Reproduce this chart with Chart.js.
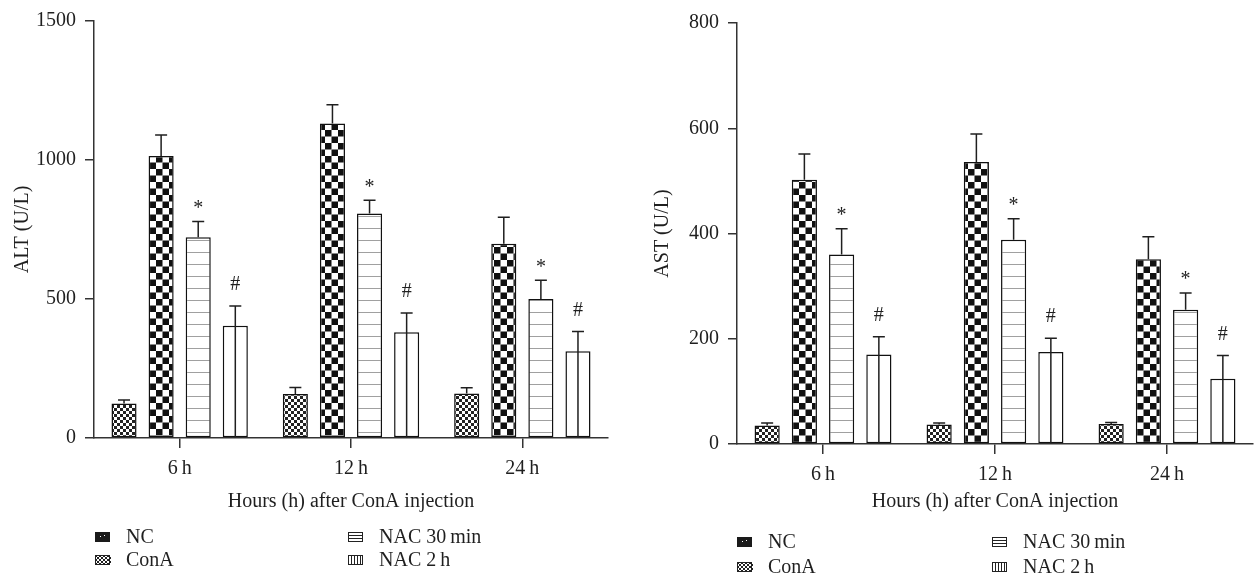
<!DOCTYPE html>
<html>
<head>
<meta charset="utf-8">
<script src="https://cdn.jsdelivr.net/npm/chart.js@4.4.1/dist/chart.umd.min.js"></script>
<style>
  html, body { margin: 0; padding: 0; background: #fff; }
  #wrap { position: relative; width: 1259px; height: 580px; }
  #altChart { position: absolute; left: 0; top: 0; }
  #astChart { position: absolute; left: 630px; top: 0; }
</style>
</head>
<body>
<div id="wrap">
  <canvas id="altChart" width="630" height="580"></canvas>
  <canvas id="astChart" width="629" height="580"></canvas>
</div>
<script>
// categories / series
var groups = ["6\u2009h", "12\u2009h", "24\u2009h"];
var seriesNames = ["NC", "ConA", "NAC 30\u2009min", "NAC 2\u2009h"];
var marks = ["", "", "*", "#"];

// ALT (U/L): means and top of error bar
var altNC = [124, 158, 160];
var altNCTop = [137, 182, 181];
var altConA = [1014, 1131, 699];
var altConATop = [1090, 1199, 794];
var altNAC30 = [722, 808, 500];
var altNAC30Top = [779, 855, 567];
var altNAC2 = [404, 380, 312];
var altNAC2Top = [475, 450, 383];
var altTicks = [0, 500, 1000, 1500];

// AST (U/L)
var astNC = [35, 37, 38];
var astNCTop = [40, 40, 41];
var astConA = [502, 536, 351];
var astConATop = [551, 589, 394];
var astNAC30 = [360, 388, 255];
var astNAC30Top = [409, 428, 287];
var astNAC2 = [170, 175, 124];
var astNAC2Top = [204, 201, 168];
var astTicks = [0, 200, 400, 600, 800];

var FONT = "'Liberation Serif', 'DejaVu Serif', serif";
var FS = 20;
var INK = '#1f1f1f';

function makePattern(w, h, draw) {
  var c = document.createElement('canvas');
  c.width = w; c.height = h;
  var g = c.getContext('2d');
  g.fillStyle = '#fff';
  g.fillRect(0, 0, w, h);
  draw(g);
  return g.createPattern(c, 'repeat');
}
var fineChecker = makePattern(6, 6, function (g) {
  g.fillStyle = '#222';
  g.fillRect(0, 0, 3, 3); g.fillRect(3, 3, 3, 3);
});
var bigChecker = makePattern(13, 13, function (g) {
  g.fillStyle = '#111';
  g.fillRect(0, 0, 6.5, 6.5); g.fillRect(6.5, 6.5, 6.5, 6.5);
});
var hStripes = makePattern(8, 12, function (g) {
  g.fillStyle = '#a0a0a0';
  g.fillRect(0, 0, 8, 1);
});

function buildDatasets(vals, tops) {
  var fills = [fineChecker, bigChecker, hStripes, '#ffffff'];
  var icons = ['dark', 'fine', 'hlines', 'vlines'];
  return seriesNames.map(function (name, i) {
    return {
      label: name,
      data: vals[i],
      errTop: tops[i],
      mark: marks[i],
      centerLine: i === 3,
      legendIcon: icons[i],
      backgroundColor: fills[i],
      borderColor: '#111',
      borderWidth: 1.5,
      borderSkipped: false
    };
  });
}

var errorBars = {
  id: 'errorBars',
  afterDatasetsDraw: function (chart) {
    var ctx = chart.ctx;
    var ys = chart.scales.y;
    ctx.save();
    ctx.strokeStyle = INK;
    ctx.lineWidth = 1.5;
    chart.data.datasets.forEach(function (ds, i) {
      var meta = chart.getDatasetMeta(i);
      meta.data.forEach(function (bar, j) {
        var yTop = ys.getPixelForValue(ds.errTop[j]);
        var yStart = ds.centerLine ? bar.base : bar.y;
        ctx.beginPath();
        ctx.moveTo(bar.x, yStart);
        ctx.lineTo(bar.x, yTop);
        ctx.moveTo(bar.x - 6, yTop);
        ctx.lineTo(bar.x + 6, yTop);
        ctx.stroke();
        if (ds.mark) {
          ctx.fillStyle = INK;
          ctx.font = FS + 'px ' + FONT;
          ctx.textAlign = 'center';
          ctx.textBaseline = 'middle';
          ctx.fillText(ds.mark, bar.x, yTop - (ds.mark === '*' ? 13 : 21));
        }
      });
    });
    ctx.restore();
  }
};

function drawIcon(ctx, type, x, y) {
  var w = 15, h = 10;
  ctx.save();
  ctx.lineWidth = 1;
  ctx.strokeStyle = '#222';
  if (type === 'dark') {
    ctx.fillStyle = '#1a1a1a';
    ctx.fillRect(x, y, w, h);
    ctx.fillStyle = '#fff';
    ctx.fillRect(x + 5, y + 4, 1, 1);
    ctx.fillRect(x + 9, y + 3, 1, 1);
  } else if (type === 'fine') {
    for (var r = 0; r < 5; r++) {
      for (var c = 0; c < 8; c++) {
        ctx.fillStyle = (r + c) % 2 ? '#fff' : '#222';
        ctx.fillRect(x + c * 2, y + r * 2, 2, 2);
      }
    }
    ctx.strokeRect(x + 0.5, y + 0.5, w - 1, h - 1);
  } else if (type === 'hlines') {
    ctx.strokeRect(x + 0.5, y + 0.5, w - 1, h - 1);
    ctx.beginPath();
    ctx.moveTo(x, y + 3.5); ctx.lineTo(x + w, y + 3.5);
    ctx.moveTo(x, y + 6.5); ctx.lineTo(x + w, y + 6.5);
    ctx.stroke();
  } else {
    ctx.strokeRect(x + 0.5, y + 0.5, w - 1, h - 1);
    ctx.beginPath();
    for (var k = 1; k < 5; k++) {
      ctx.moveTo(x + k * 3 + 0.5, y); ctx.lineTo(x + k * 3 + 0.5, y + h);
    }
    ctx.stroke();
  }
  ctx.restore();
}

var patternLegend = {
  id: 'patternLegend',
  afterDraw: function (chart, args, opts) {
    var ctx = chart.ctx;
    ctx.save();
    ctx.font = FS + 'px ' + FONT;
    ctx.fillStyle = INK;
    ctx.textBaseline = 'middle';
    ctx.textAlign = 'left';
    chart.data.datasets.forEach(function (ds, i) {
      var col = Math.floor(i / 2), row = i % 2;
      var ix = opts.x + col * opts.colGap;
      var iy = opts.y + row * opts.rowGap;
      drawIcon(ctx, ds.legendIcon, ix, iy - 5);
      ctx.fillText(ds.label, ix + opts.textGap, iy + 1);
    });
    ctx.restore();
  }
};

function makeChart(id, cfg) {
  return new Chart(document.getElementById(id).getContext('2d'), {
    type: 'bar',
    data: { labels: groups, datasets: buildDatasets(cfg.vals, cfg.tops) },
    plugins: [errorBars, patternLegend],
    options: {
      responsive: false,
      animation: false,
      layout: { padding: cfg.padding },
      datasets: { bar: { barPercentage: 0.676, categoryPercentage: 0.866 } },
      plugins: {
        legend: { display: false },
        tooltip: { enabled: false },
        patternLegend: cfg.legend
      },
      scales: {
        x: {
          offset: true,
          afterFit: function (s) { s.height = cfg.xHeight; },
          border: { color: '#333', width: 1.5 },
          grid: { offset: false, drawOnChartArea: false, color: '#333', lineWidth: 1.5, tickLength: 10 },
          ticks: { color: INK, font: { family: FONT, size: FS }, padding: cfg.xTickPad },
          title: {
            display: true, text: 'Hours (h) after ConA injection', color: INK,
            font: { family: FONT, size: FS }, padding: { top: 0, bottom: cfg.xTitlePad }
          }
        },
        y: {
          min: 0,
          max: cfg.ticks[cfg.ticks.length - 1],
          afterFit: function (s) { s.width = cfg.yWidth; },
          afterBuildTicks: function (s) { s.ticks = cfg.ticks.map(function (v) { return { value: v }; }); },
          border: { color: '#333', width: 1.5 },
          grid: { drawOnChartArea: false, color: '#333', lineWidth: 1.5, tickLength: 9 },
          ticks: {
            color: INK, font: { family: FONT, size: FS }, padding: 9,
            callback: function (v) { return String(v); }
          },
          title: {
            display: true, text: cfg.yTitle, color: INK,
            font: { family: FONT, size: FS }, padding: { top: cfg.yTitlePad, bottom: 0 }
          }
        }
      }
    }
  });
}

makeChart('altChart', {
  vals: [altNC, altConA, altNAC30, altNAC2],
  tops: [altNCTop, altConATop, altNAC30Top, altNAC2Top],
  ticks: altTicks,
  yTitle: 'ALT (U/L)',
  padding: { top: 16, right: 22, bottom: 0, left: 0 },
  yWidth: 94, xHeight: 142, xTickPad: 9, xTitlePad: 66, yTitlePad: 11,
  legend: { x: 95, y: 537, colGap: 253, rowGap: 23, textGap: 31 }
});

makeChart('astChart', {
  vals: [astNC, astConA, astNAC30, astNAC2],
  tops: [astNCTop, astConATop, astNAC30Top, astNAC2Top],
  ticks: astTicks,
  yTitle: 'AST (U/L)',
  padding: { top: 23, right: 6, bottom: 0, left: 0 },
  yWidth: 107, xHeight: 136, xTickPad: 9, xTitlePad: 66, yTitlePad: 21,
  legend: { x: 107, y: 542, colGap: 255, rowGap: 25, textGap: 31 }
});
</script>
</body>
</html>
